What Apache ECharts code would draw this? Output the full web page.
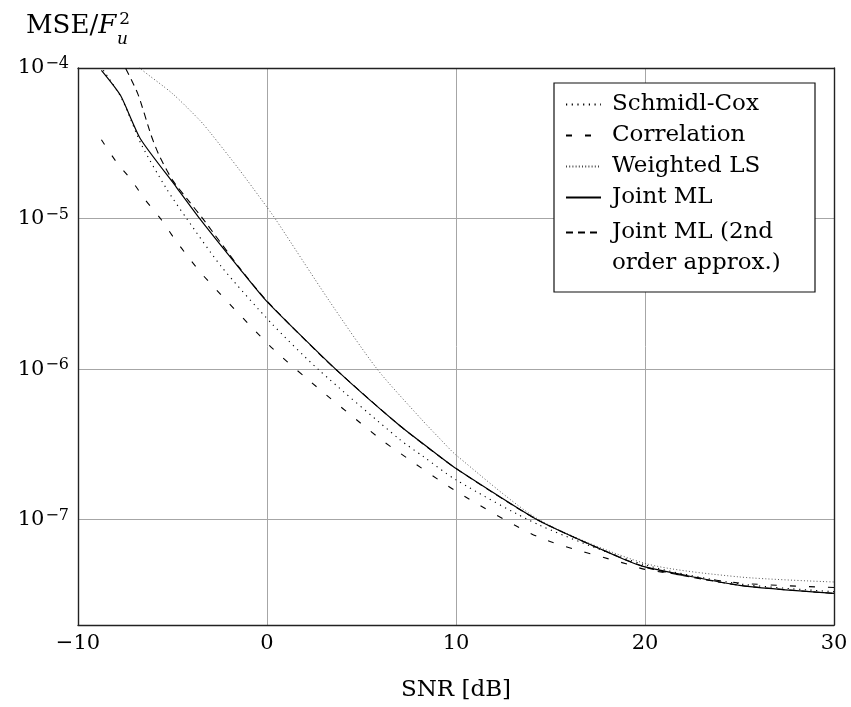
<!DOCTYPE html>
<html>
<head>
<meta charset="utf-8">
<script src="https://cdn.jsdelivr.net/npm/echarts@6/dist/echarts.min.js"></script>
<style>html,body{margin:0;padding:0;background:#fff;}#c{width:851px;height:707px;}</style>
</head>
<body>
<div id="c"></div>
<script>
// ---- data (SNR in dB, MSE/Fu^2) ----
const snrSchmidl = [-8.66, -7.7, -6.64, -5.32, -4.25, -2.41, 0.23, 2.7, 7.0, 8.25, 10, 14.4, 20, 25, 30];
const mseSchmidl = [9.66e-5, 6.31e-5, 3.09e-5, 1.58e-5, 1.0e-5, 4.79e-6, 2.02e-6, 1.0e-6, 3.43e-7, 2.64e-7, 1.84e-7, 9.23e-8, 5.01e-8, 3.75e-8, 3.33e-8];

const snrCorr = [-8.76, -7.97, -7.17, -6.5, -5.6, -4.9, -4.1, -3.4, 0.1, 2.08, 5.95, 7.0, 10, 14.4, 19.35, 20, 25, 30];
const mseCorr = [3.34e-5, 2.38e-5, 1.80e-5, 1.36e-5, 9.86e-6, 7.36e-6, 5.42e-6, 4.22e-6, 1.45e-6, 8.71e-7, 3.47e-7, 2.79e-7, 1.55e-7, 7.64e-8, 4.95e-8, 4.68e-8, 3.80e-8, 3.55e-8];

const snrWLS = [-7.76, -6.74, -5.0, -3.56, -3.03, -1.5, 0, 0.5, 3.32, 5.83, 8.17, 9.13, 10, 14.4, 20, 25, 30];
const mseWLS = [1.32e-4, 1.0e-4, 6.76e-5, 4.50e-5, 3.76e-5, 2.14e-5, 1.19e-5, 9.70e-6, 2.81e-6, 1.0e-6, 4.65e-7, 3.47e-7, 2.69e-7, 1.0e-7, 5.13e-8, 4.17e-8, 3.86e-8];

const snrJML = [-8.76, -7.76, -6.7, -4.8, -3.56, -1.45, 0, 3.63, 7.0, 9.13, 10, 14.4, 18.6, 20, 25, 30];
const mseJML = [9.66e-5, 6.61e-5, 3.39e-5, 1.62e-5, 1.0e-5, 4.66e-6, 2.81e-6, 1.0e-6, 4.24e-7, 2.64e-7, 2.19e-7, 9.84e-8, 5.66e-8, 4.86e-8, 3.67e-8, 3.24e-8];

const snrJML2 = [-7.76, -6.84, -6.13, -5.71, -5.0, -4.1, -3.4, -1.45, 0, 3.1, 7.0, 10, 14.4, 20, 25, 30];
const mseJML2 = [1.17e-4, 6.76e-5, 3.57e-5, 2.63e-5, 1.80e-5, 1.29e-5, 1.0e-5, 4.7e-6, 2.83e-6, 1.15e-6, 4.24e-7, 2.19e-7, 9.84e-8, 4.86e-8, 3.67e-8, 3.24e-8];

const xTicks = [-10, 0, 10, 20, 30];
const yTickExponents = [-7, -6, -5, -4];

const seriesNames = ['Schmidl-Cox', 'Correlation', 'Weighted LS', 'Joint ML', 'Joint ML (2nd order approx.)'];

function zip(xs, ys) { return xs.map((x, i) => [x, ys[i]]); }

const FONT = 'DejaVu Serif';
const chart = echarts.init(document.getElementById('c'), null, {renderer: 'canvas'});

const legendText = {
  fontFamily: FONT, fontSize: 23, color: '#000', lineHeight: 31, padding: [0, 0, 0, 6]
};

chart.setOption({
  animation: false,
  backgroundColor: '#fff',
  grid: {left: 78, right: 17, top: 68, bottom: 81, containLabel: false},
  xAxis: [{
    type: 'value', min: -10, max: 30, interval: 10,
    name: 'SNR [dB]', nameLocation: 'middle', nameGap: 54,
    nameTextStyle: {fontFamily: FONT, fontSize: 23, color: '#000'},
    axisLine: {show: true, onZero: false, lineStyle: {color: '#222', width: 1.4}},
    axisTick: {show: false},
    axisLabel: {
      margin: 8, fontFamily: FONT, fontSize: 21, color: '#000',
      formatter: v => String(v).replace('-', '\u2212')
    },
    splitLine: {show: true, showMinLine: false, showMaxLine: false, lineStyle: {color: '#a6a6a6', width: 1}}
  }, {
    type: 'value', min: -10, max: 30, position: 'top',
    axisLine: {show: true, onZero: false, lineStyle: {color: '#222', width: 1.4}},
    axisTick: {show: false}, axisLabel: {show: false}, splitLine: {show: false}
  }],
  yAxis: [{
    type: 'log', logBase: 10, min: 2e-8, max: 1e-4,
    name: '{a|MSE/}{b|F}{c|2}', nameLocation: 'end', nameGap: 26,
    nameTextStyle: {
      align: 'center', verticalAlign: 'bottom',
      rich: {
        a: {fontFamily: FONT, fontSize: 26, color: '#000'},
        b: {fontFamily: FONT, fontSize: 26, fontStyle: 'italic', color: '#000'},
        c: {fontFamily: FONT, fontSize: 17, color: '#000', verticalAlign: 'top', padding: [0, 0, 14, 3]}
      }
    },
    axisLine: {show: true, onZero: false, lineStyle: {color: '#222', width: 1.4}},
    axisTick: {show: false},
    axisLabel: {
      margin: 9, showMinLabel: false,
      formatter: function (v) {
        const e = Math.round(Math.log10(v));
        if (yTickExponents.indexOf(e) < 0) return '';
        return '{b|10}{s|' + (e < 0 ? '\u2212' : '') + Math.abs(e) + '}';
      },
      rich: {
        b: {fontFamily: FONT, fontSize: 21, color: '#000', lineHeight: 24},
        s: {fontFamily: FONT, fontSize: 16, color: '#000', verticalAlign: 'top', lineHeight: 16, padding: [0, 0, 4, 1]}
      }
    },
    splitLine: {show: true, showMinLine: false, showMaxLine: false, lineStyle: {color: '#a6a6a6', width: 1}}
  }, {
    type: 'value', min: 0, max: 1, position: 'right',
    axisLine: {show: true, onZero: false, lineStyle: {color: '#222', width: 1.4}},
    axisTick: {show: false}, axisLabel: {show: false}, splitLine: {show: false}
  }],
  legend: [{
    data: seriesNames.slice(0, 4),
    orient: 'vertical', left: 565, top: 89, padding: 0, itemGap: 0,
    itemWidth: 35, itemHeight: 14, z: 20,
    itemStyle: {opacity: 0},
    textStyle: legendText
  }, {
    data: [seriesNames[4]],
    orient: 'vertical', left: 565, top: 186, padding: 0, itemGap: 0,
    itemWidth: 35, itemHeight: 14, z: 20,
    itemStyle: {opacity: 0},
    formatter: () => ' \nJoint ML (2nd\norder approx.)',
    textStyle: legendText
  }],
  graphic: [{
    type: 'rect', z: 15,
    shape: {x: 554, y: 83, width: 261, height: 209},
    style: {fill: '#fff', stroke: '#111', lineWidth: 1.2}
  }, {
    type: 'text', z: 20, left: 117, top: 31,
    style: {text: 'u', fontFamily: FONT, fontSize: 17, fontStyle: 'italic', fill: '#000'}
  }],
  series: [{
    name: seriesNames[0], type: 'line', data: zip(snrSchmidl, mseSchmidl),
    showSymbol: false, symbol: 'none', smooth: 0.25,
    lineStyle: {color: '#000', width: 1.1, type: [1.2, 4.5]}, itemStyle: {color: '#000'}
  }, {
    name: seriesNames[1], type: 'line', data: zip(snrCorr, mseCorr),
    showSymbol: false, symbol: 'none', smooth: 0.25,
    lineStyle: {color: '#000', width: 1.1, type: [6, 13]}, itemStyle: {color: '#000'}
  }, {
    name: seriesNames[2], type: 'line', data: zip(snrWLS, mseWLS),
    showSymbol: false, symbol: 'none', smooth: 0.25,
    lineStyle: {color: '#444', width: 0.9, type: [1, 2.2]}, itemStyle: {color: '#444'}
  }, {
    name: seriesNames[3], type: 'line', data: zip(snrJML, mseJML),
    showSymbol: false, symbol: 'none', smooth: 0.2,
    lineStyle: {color: '#000', width: 1.2, type: 'solid'}, itemStyle: {color: '#000'}
  }, {
    name: seriesNames[4], type: 'line', data: zip(snrJML2, mseJML2),
    showSymbol: false, symbol: 'none', smooth: 0.2,
    lineStyle: {color: '#000', width: 1.1, type: [7, 5]}, itemStyle: {color: '#000'}
  }]
});
</script>
</body>
</html>
